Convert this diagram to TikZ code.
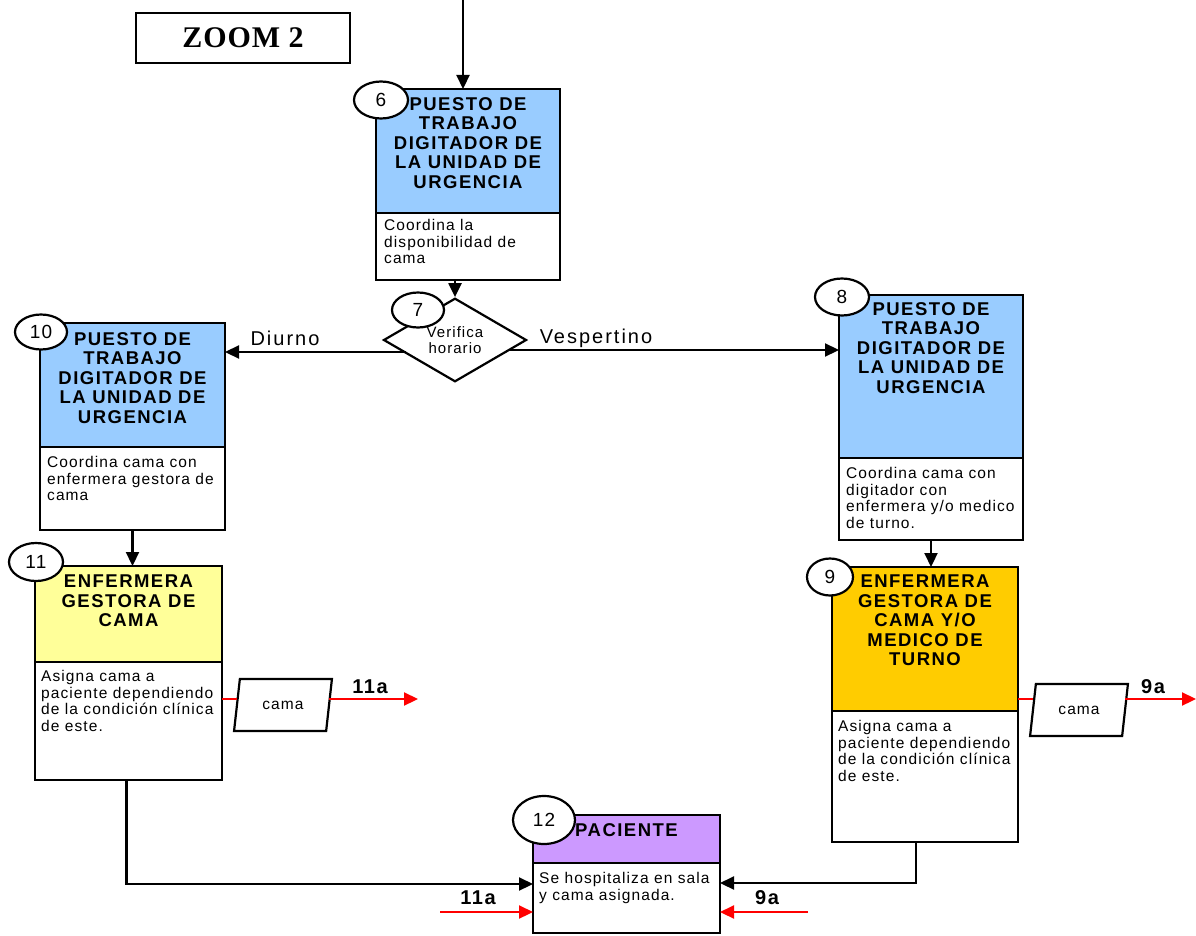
\documentclass[tikz,border=0pt]{standalone}
\usepackage{fontspec}
\setmainfont{Liberation Sans}
\newfontfamily\hdfont[LetterSpace=8]{Liberation Sans}
\newfontfamily\dsfont[LetterSpace=7]{Liberation Sans}
\newfontfamily\lbfont[LetterSpace=10]{Liberation Sans}
\newfontfamily\zmfont[LetterSpace=3]{Liberation Serif}
\usetikzlibrary{arrows.meta,shapes.geometric}
\definecolor{hblue}{HTML}{99CCFF}
\definecolor{hyellow}{HTML}{FFFF99}
\definecolor{horange}{HTML}{FFCC00}
\definecolor{hpurple}{HTML}{CC99FF}
\definecolor{fred}{HTML}{FF0000}
\begin{document}
\begin{tikzpicture}[x=1pt,y=-1pt,
  hdr/.style={draw, line width=2.6pt, anchor=north west, inner sep=0pt, outer sep=0pt},
  dsc/.style={draw, line width=2.6pt, anchor=north west, fill=white, inner sep=0pt, outer sep=0pt},
  ttl/.style={anchor=north, align=center, inner sep=0pt,
              font=\hdfont\bfseries\fontsize{18.5}{19.5}\selectfont},
  txt/.style={anchor=north west, align=left, inner sep=0pt,
              font=\dsfont\fontsize{15.5}{16.7}\selectfont},
  num/.style={draw, ellipse, fill=white, line width=2.2pt, inner sep=0pt, outer sep=0pt,
              font=\dsfont\fontsize{19}{19}\selectfont},
  doc/.style={draw, trapezium, trapezium left angle=72, trapezium right angle=108,
              trapezium stretches=true, fill=white, line width=2.2pt, inner sep=0pt, outer sep=0pt,
              minimum width=98pt, minimum height=52pt,
              font=\dsfont\fontsize{15.5}{16.5}\selectfont},
  flow/.style={line width=2.2pt, -{Triangle[length=14pt,width=13pt]}},
  redline/.style={line width=2.2pt, draw=fred},
  redflow/.style={line width=2.2pt, draw=fred, -{Triangle[length=14pt,width=13pt]}},
  lbl/.style={inner sep=0pt, font=\lbfont\fontsize{20}{20}\selectfont},
  bl/.style={inner sep=0pt, font=\hdfont\bfseries\fontsize{20}{20}\selectfont}]
\useasboundingbox (0,0) rectangle (1196,936);

% title box
\node[draw, line width=2pt, minimum width=214pt, minimum height=50pt, inner sep=0pt,
      font=\zmfont\bfseries\fontsize{30}{30}\selectfont] (zoom) at (243,38) {ZOOM 2};

% step 6
\node[hdr, fill=hblue, minimum width=184pt, minimum height=124pt] (h6) at (376,89) {};
\node[dsc, minimum width=184pt, minimum height=67pt] (d6) at (h6.south west) {};
\node[ttl] (t6) at ([yshift=-8pt]h6.north) {PUESTO DE\\TRABAJO\\DIGITADOR DE\\LA UNIDAD DE\\URGENCIA};
\node[txt] (x6) at ([xshift=8pt,yshift=-6pt]d6.north west) {Coordina la\\disponibilidad de\\cama};

% step 7
\node[draw, diamond, line width=2.2pt, fill=white, inner sep=0pt,
      minimum width=143pt, minimum height=75pt, align=center,
      font=\dsfont\fontsize{15}{16}\selectfont] (d7) at (455,340) {Verifica\\horario};

% step 10
\node[hdr, fill=hblue, minimum width=185pt, minimum height=124pt] (h10) at (40,323) {};
\node[dsc, minimum width=185pt, minimum height=83pt] (d10) at (h10.south west) {};
\node[ttl] (t10) at ([yshift=-9pt]h10.north) {PUESTO DE\\TRABAJO\\DIGITADOR DE\\LA UNIDAD DE\\URGENCIA};
\node[txt] (x10) at ([xshift=7pt,yshift=-9pt]d10.north west) {Coordina cama con\\enfermera gestora de\\cama};

% step 8
\node[hdr, fill=hblue, minimum width=184pt, minimum height=163pt] (h8) at (839,295) {};
\node[dsc, minimum width=184pt, minimum height=82pt] (d8) at (h8.south west) {};
\node[ttl] (t8) at ([yshift=-7pt]h8.north) {PUESTO DE\\TRABAJO\\DIGITADOR DE\\LA UNIDAD DE\\URGENCIA};
\node[txt] (x8) at ([xshift=7pt,yshift=-9pt]d8.north west) {Coordina cama con\\digitador con\\enfermera y/o medico\\de turno.};

% step 11
\node[hdr, fill=hyellow, minimum width=187pt, minimum height=96pt] (h11) at (35,566) {};
\node[dsc, minimum width=187pt, minimum height=118pt] (d11) at (h11.south west) {};
\node[ttl] (t11) at ([yshift=-9pt]h11.north) {ENFERMERA\\GESTORA DE\\CAMA};
\node[txt] (x11) at ([xshift=6pt,yshift=-8pt]d11.north west) {Asigna cama a\\paciente dependiendo\\de la condición clínica\\de este.};

% step 9
\node[hdr, fill=horange, minimum width=186pt, minimum height=144pt] (h9) at (832,567) {};
\node[dsc, minimum width=186pt, minimum height=131pt] (d9) at (h9.south west) {};
\node[ttl] (t9) at ([yshift=-8pt]h9.north) {ENFERMERA\\GESTORA DE\\CAMA Y/O\\MEDICO DE\\TURNO};
\node[txt] (x9) at ([xshift=6pt,yshift=-9pt]d9.north west) {Asigna cama a\\paciente dependiendo\\de la condición clínica\\de este.};

% step 12
\node[hdr, fill=hpurple, minimum width=187pt, minimum height=48pt] (h12) at (533,815) {};
\node[dsc, minimum width=187pt, minimum height=70pt] (d12) at (h12.south west) {};
\node[ttl] (t12) at ([yshift=-8pt]h12.north) {PACIENTE};
\node[txt] (x12) at ([xshift=6pt,yshift=-9pt]d12.north west) {Se hospitaliza en sala\\y cama asignada.};

% documents
\node[doc] (p11) at (283,705) {cama};
\node[doc] (p9) at (1079,710) {cama};

% step numbers
\node[num, minimum width=54pt, minimum height=37pt] (n6) at (381,100) {6};
\node[num, minimum width=52pt, minimum height=35pt] (n7) at (418,310) {7};
\node[num, minimum width=52pt, minimum height=35pt] (n10) at (41,332) {10};
\node[num, minimum width=54pt, minimum height=37pt] (n8) at (842,297) {8};
\node[num, minimum width=54pt, minimum height=38pt] (n11) at (36,562) {11};
\node[num, minimum width=46pt, minimum height=37pt] (n9) at (830,577) {9};
\node[num, minimum width=62pt, minimum height=48pt] (n12) at (544,820) {12};

% main flow
\coordinate (in6) at (463,0);
\draw[flow] (in6) -- (in6 |- h6.north);
\draw[flow] (d7.north |- d6.south) -- (d7.north);
\coordinate (dl) at (406,352);
\draw[flow] (dl) -- (dl -| h10.east);
\node[lbl] (ldiurno) at (285,338) {Diurno};
\coordinate (dr) at (508,350);
\draw[flow] (dr) -- (dr -| h8.west);
\node[lbl] (lvesp) at (596,338) {Vespertino};
\draw[flow] (d10.south) -- (d10.south |- h11.north);
\draw[flow] (d8.south) -- (d8.south |- h9.north);
\draw[flow] ([xshift=-2pt]d11.south) |- ([yshift=-21pt]d12.north west);
\draw[flow] ([xshift=-9pt]d9.south) |- ([yshift=-20pt]d12.north east);

% records
\coordinate (r11) at ([yshift=-37pt]d11.north east);
\coordinate (e11) at (418,0);
\draw[redline] (r11) -- (r11 -| p11.west);
\draw[redflow] (r11 -| p11.east) -- (r11 -| e11);
\node[bl] (l11a) at (370,687) {11a};
\coordinate (r9) at ([yshift=12pt]h9.south east);
\coordinate (e9) at (1196,0);
\draw[redline] (r9) -- (r9 -| p9.west);
\draw[redflow] (r9 -| p9.east) -- (r9 -| e9);
\node[bl] (l9a) at (1153,687) {9a};

\coordinate (s11) at (440,912);
\draw[redflow] (s11) -- (s11 -| d12.west);
\node[bl] (m11a) at (478,898) {11a};
\coordinate (s9) at (808,912);
\draw[redflow] (s9) -- (s9 -| d12.east);
\node[bl] (m9a) at (767,898) {9a};
\end{tikzpicture}
\end{document}
